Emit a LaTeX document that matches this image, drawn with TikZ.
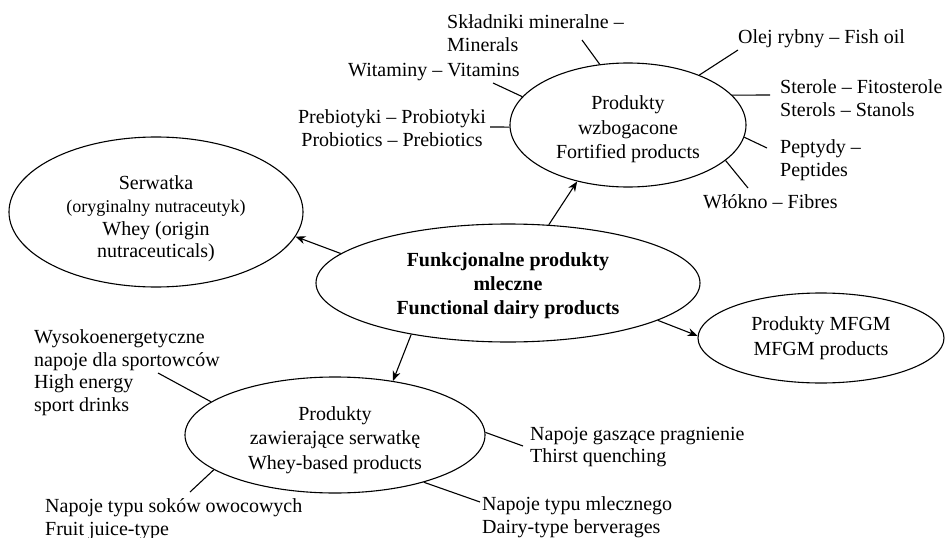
\documentclass[tikz,border=0pt]{standalone}
\usepackage{fontspec}
\setmainfont{Liberation Serif}
\usetikzlibrary{shapes.geometric,arrows.meta}

\begin{document}
\begin{tikzpicture}[x=1pt,y=-1pt,
  bubble/.style={ellipse,draw,line width=1.1pt,inner sep=0pt},
  inside/.style={inner sep=0pt,align=center,font=\fontsize{20}{24.5}\selectfont},
  lbl/.style={inner sep=0pt,font=\fontsize{20}{22.5}\selectfont},
  link/.style={line width=1.1pt},
  arr/.style={line width=1.1pt,-{Stealth[length=10pt,width=8pt]}}]

\useasboundingbox (0,0) rectangle (946,538);

% main categories
\node[bubble,minimum width=384pt,minimum height=118pt] (core) at (508,283) {};
\node[inside,font=\fontsize{20}{24}\selectfont\bfseries] (coreText) at (508,286)
  {Funkcjonalne produkty\\mleczne\\Functional dairy products};

\node[bubble,minimum width=294pt,minimum height=150pt] (serw) at (156,212) {};
\node[inside,font=\fontsize{20}{22.7}\selectfont] (serwText) at (156,219)
  {Serwatka\\{\fontsize{18}{22}\selectfont(oryginalny nutraceutyk)}\\Whey (origin\\nutraceuticals)};

\node[bubble,minimum width=236pt,minimum height=124pt] (fort) at (628,125) {};
\node[inside] (fortText) at (628,129.5) {Produkty\\wzbogacone\\Fortified products};

\node[bubble,minimum width=246pt,minimum height=90pt] (mfgm) at (821,338) {};
\node[inside] (mfgmText) at (821,338) {Produkty MFGM\\MFGM products};

\node[bubble,minimum width=300pt,minimum height=116pt] (wheyp) at (335,435) {};
\node[inside] (wheypText) at (335,440) {Produkty\\zawierające serwatkę\\Whey-based products};

% fortified product components
\node[lbl,anchor=west,align=left] (minerals) at (447,33) {Składniki mineralne –\\Minerals};
\node[lbl,anchor=west] (vitamins) at (348,72) {Witaminy – Vitamins};
\node[lbl,align=center] (biotics) at (392,128) {Prebiotyki – Probiotyki\\Probiotics – Prebiotics};
\node[lbl,anchor=west] (fishoil) at (738,39) {Olej rybny – Fish oil};
\node[lbl,anchor=west,align=left] (sterols) at (780,98) {Sterole – Fitosterole\\Sterols – Stanols};
\node[lbl,anchor=west,align=left] (peptides) at (780,160) {Peptydy –\\Peptides};
\node[lbl,anchor=west] (fibres) at (703,202) {Włókno – Fibres};

% whey-based product types
\node[lbl,anchor=west,align=left] (sport) at (34,372.5)
  {Wysokoenergetyczne\\napoje dla sportowców\\High energy\\sport drinks};
\node[lbl,anchor=west,align=left] (juice) at (45,519) {Napoje typu soków owocowych\\Fruit juice-type};
\node[lbl,anchor=west,align=left] (thirst) at (530,447) {Napoje gaszące pragnienie\\Thirst quenching};
\node[lbl,anchor=west,align=left] (dairy) at (482,517) {Napoje typu mlecznego\\Dairy-type berverages};

% free ends of the spokes
\coordinate (cMin) at (582,40);
\coordinate (cVit) at (493,83);
\coordinate (cBio) at (490,127);
\coordinate (cFish) at (738,50);
\coordinate (cSter) at (770,95);
\coordinate (cPep) at (767,148);
\coordinate (cFib) at (748,188);
\coordinate (cSport) at (158,373);
\coordinate (cJuice) at (190,492);
\coordinate (cThirst) at (523,446);
\coordinate (cDairy) at (480,502);

\draw[link] (fort.115) -- (cMin);
\draw[link] (fort.165) -- (cVit);
\draw[link] (fort.181) -- (cBio);
\draw[link] (fort.35) -- (cFish);
\draw[link] (fort.16) -- (cSter);
\draw[link] (fort.-6) -- (cPep);
\draw[link] (fort.-20) -- (cFib);
\draw[link] (wheyp.165) -- (cSport);
\draw[link] (wheyp.196) -- (cJuice);
\draw[link] (wheyp.1) -- (cThirst);
\draw[link] (wheyp.-28) -- (cDairy);

% arrows from the core
\draw[arr] (core.170) -- (serw.-10);
\draw[arr] (core.55) -- (fort.228);
\draw[arr] (core.-14) -- (mfgm.179);
\draw[arr] (core.208) -- (wheyp.43);
\end{tikzpicture}
\end{document}
